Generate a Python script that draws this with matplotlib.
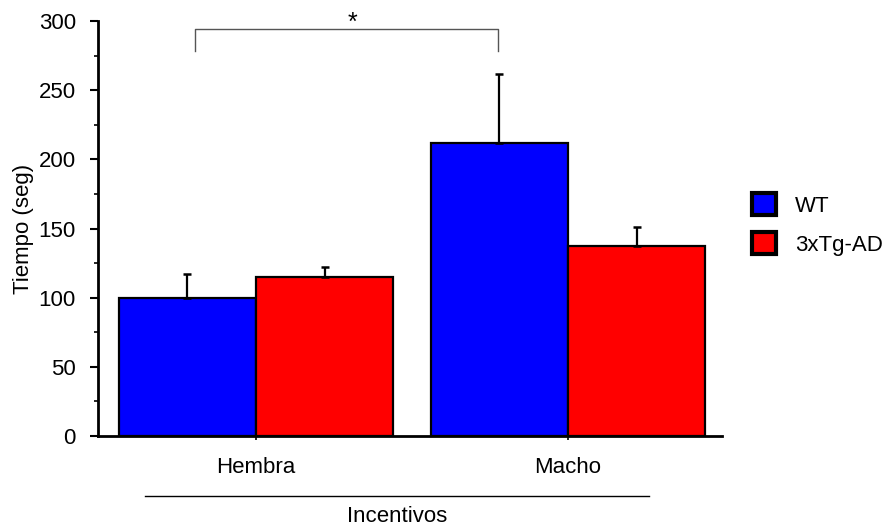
import matplotlib.pyplot as plt
import numpy as np
from matplotlib.lines import Line2D
from matplotlib.patches import Patch

plt.rcParams['font.family'] = ['Liberation Sans', 'DejaVu Sans']

groups = ['Hembra', 'Macho']
series = ['WT', '3xTg-AD']
wt_mean = [100, 212]
wt_err = [17, 50]
tg_mean = [115, 137]
tg_err = [7, 14]
colors = ['#0000ff', '#ff0000']

fig = plt.figure(figsize=(8.96, 5.25), dpi=100)
ax = fig.add_axes([0.1094, 0.1695, 0.8058 - 0.1094, 0.96 - 0.1695])

x = np.arange(len(groups))
w = 0.44
ekw = dict(elinewidth=1.6, capthick=1.8)
ax.bar(x - w/2, wt_mean, w, color=colors[0], edgecolor='black', linewidth=1.6,
       yerr=[np.zeros(2), wt_err], capsize=2.8, error_kw=ekw, zorder=2)
ax.bar(x + w/2, tg_mean, w, color=colors[1], edgecolor='black', linewidth=1.6,
       yerr=[np.zeros(2), tg_err], capsize=2.8, error_kw=ekw, zorder=2)

ax.set_xlim(-0.506, 1.494)
ax.set_ylim(0, 300)
ax.set_yticks(np.arange(0, 301, 50))
ax.set_yticks(np.arange(25, 300, 50), minor=True)
ax.set_xticks(x)
ax.set_xticklabels(groups, fontsize=16)
ax.tick_params(axis='y', labelsize=16, length=6, width=1.5, direction='out', pad=10)
ax.tick_params(axis='y', which='minor', length=3, width=1.2)
ax.tick_params(axis='x', length=3, width=1.2, pad=12)
ax.set_ylabel('Tiempo (seg)', fontsize=16, labelpad=3)
for s in ['top', 'right']:
    ax.spines[s].set_visible(False)
ax.spines['left'].set_linewidth(2)
ax.spines['bottom'].set_linewidth(2)

# significance bracket
bx = [-0.195, -0.195, 0.775, 0.775]
by = [278.5, 294.3, 294.3, 278.5]
ax.plot(bx, by, color='#555555', lw=1, clip_on=False)
ax.text(0.31, 298.5, '*', ha='center', va='center', fontsize=18)

# group line under x labels
fig.add_artist(Line2D([145/896, 649/896], [1 - 496/525, 1 - 496/525], color='black', lw=1))
fig.text(397/896, 1 - 516/525, 'Incentivos', ha='center', va='center', fontsize=16)

handles = [Patch(facecolor=c, edgecolor='black', linewidth=3) for c in colors]
fig.legend(handles, series, loc='center left', bbox_to_anchor=(752/896, 1 - 224.5/525),
           frameon=False, borderpad=0, borderaxespad=0, fontsize=16,
           handlelength=1.1, handleheight=1.1, handletextpad=0.85, labelspacing=0.7)

fig.savefig('out.png', dpi=100)
